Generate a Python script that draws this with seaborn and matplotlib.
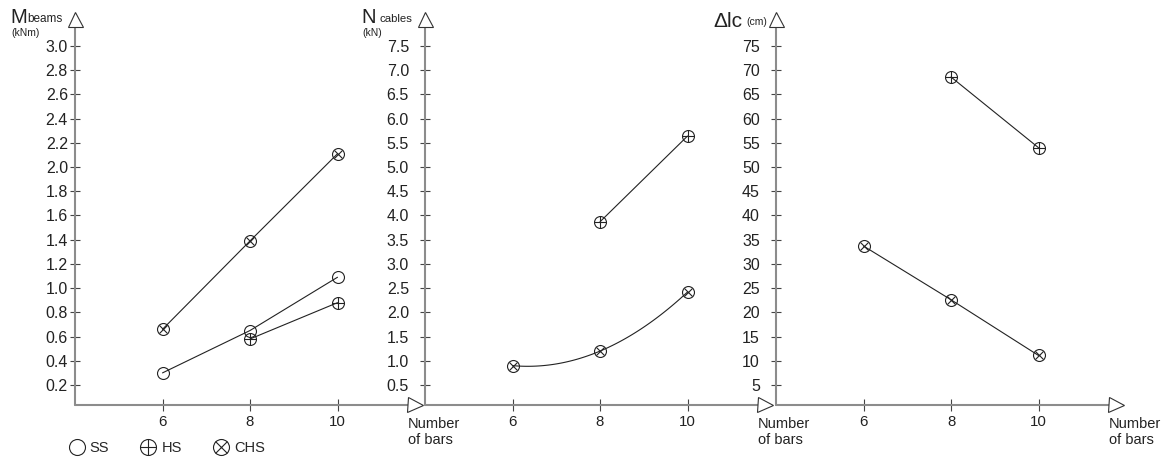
import numpy as np
import matplotlib.pyplot as plt
import seaborn as sns
from matplotlib.lines import Line2D

# number of bars on the x axis
bars = [6, 8, 10]

# M beams (kNm)
m_ss = [0.30, 0.65, 1.09]
m_hs = [np.nan, 0.58, 0.88]
m_chs = [0.66, 1.39, 2.11]

# N cables (kN)
n_hs = [np.nan, 3.87, 5.64]
n_chs = [0.90, 1.20, 2.42]

# delta lc (cm)
dl_hs = [np.nan, 68.6, 54.0]
dl_chs = [33.7, 22.6, 11.1]

m_ticks = [0.2, 0.4, 0.6, 0.8, 1.0, 1.2, 1.4, 1.6, 1.8, 2.0, 2.2, 2.4, 2.6, 2.8, 3.0]
n_ticks = [0.5, 1.0, 1.5, 2.0, 2.5, 3.0, 3.5, 4.0, 4.5, 5.0, 5.5, 6.0, 6.5, 7.0, 7.5]
dl_ticks = [5, 10, 15, 20, 25, 30, 35, 40, 45, 50, 55, 60, 65, 70, 75]

legend_labels = ['SS', 'HS', 'CHS']

sns.set_theme(style='white')
plt.rcParams['font.family'] = ['Liberation Sans', 'DejaVu Sans']

W, H = 1169, 461
fig = plt.figure(figsize=(W / 100, H / 100), dpi=100)

AXIS_COL = '#8c8c8c'
TICK_COL = '#444444'


def px(x, y):
    # pixel position (from top-left) to figure fraction
    return x / W, 1 - y / H


def draw_markers(ax, x, y, kind, ms, **kw):
    base = dict(ls='none', mfc='none', mec='#222222', mew=0.8, zorder=3, clip_on=False)
    base.update(kw)
    ax.plot(x, y, marker='o', ms=ms, **base)
    if kind == 'HS':
        ax.plot(x, y, marker='+', ms=ms, **base)
    elif kind == 'CHS':
        ax.plot(x, y, marker='x', ms=ms * 0.72, **base)


def draw_series(ax, vals, kind, smooth=False):
    x = np.array(bars, float)
    y = np.array(vals, float)
    ok = ~np.isnan(y)
    x, y = x[ok], y[ok]
    if smooth:
        xs = np.linspace(x.min(), x.max(), 80)
        ys = np.polyval(np.polyfit(x, y, 2), xs)
        sns.lineplot(x=xs, y=ys, ax=ax, color='#222222', lw=0.8, sort=False)
    else:
        sns.lineplot(x=x, y=y, ax=ax, color='#222222', lw=0.8, sort=False)
    draw_markers(ax, x, y, kind, 8.6)


def setup_axis(ax, ticks, fmt, label_pad):
    step = ticks[1] - ticks[0]
    ax.set_xlim(4, 12)
    ax.set_ylim(ticks[0] - 0.826 * step, ticks[-1] + 1.404 * step)
    for s in ax.spines.values():
        s.set_visible(False)
    ax.set_facecolor('none')
    ax.set_yticks(ticks)
    ax.set_yticklabels([fmt.format(t) for t in ticks])
    ax.set_xticks(bars)
    ax.set_xticklabels([str(b) for b in bars])
    ax.tick_params(axis='y', direction='inout', length=7.2, width=0.8, color=TICK_COL,
                   pad=label_pad, labelsize=11.5, labelcolor='#222222', left=True)
    ax.tick_params(axis='x', direction='inout', length=9, width=0.8, color=TICK_COL,
                   pad=3, labelsize=10.8, labelcolor='#222222', bottom=True)
    ax.set_xlabel('')
    ax.set_ylabel('')
    # axis lines with open arrow heads
    tr = ax.transAxes
    ax.plot([0, 0], [0, 0.9618], color=AXIS_COL, lw=1.5, transform=tr, clip_on=False, zorder=1)
    ax.plot([0, 0.9505], [0, 0], color=AXIS_COL, lw=1.5, transform=tr, clip_on=False, zorder=1)
    ax.plot([0], [0.981], marker='^', ms=10.8, mfc='white', mec='#333333', mew=0.8,
            transform=tr, clip_on=False, zorder=4)
    ax.plot([0.972], [0], marker='>', ms=10.8, mfc='white', mec='#333333', mew=0.8,
            transform=tr, clip_on=False, zorder=4)
    ax.text(0.9505, -12 / 393, 'Number\nof bars', transform=tr, ha='left', va='top',
            fontsize=10.5, color='#222222', linespacing=1.15)


bottom, height = 1 - 405 / H, 393 / H
ax_m = fig.add_axes([75 / W, bottom, 350 / W, height])
ax_n = fig.add_axes([425 / W, bottom, 350 / W, height])
ax_d = fig.add_axes([776 / W, bottom, 350 / W, height])

setup_axis(ax_m, m_ticks, '{:.1f}', 1.5)
setup_axis(ax_n, n_ticks, '{:.1f}', 8)
setup_axis(ax_d, dl_ticks, '{:d}', 8)

draw_series(ax_m, m_ss, 'SS')
draw_series(ax_m, m_hs, 'HS')
draw_series(ax_m, m_chs, 'CHS')

draw_series(ax_n, n_hs, 'HS')
draw_series(ax_n, n_chs, 'CHS', smooth=True)

draw_series(ax_d, dl_hs, 'HS')
draw_series(ax_d, dl_chs, 'CHS')

# axis titles
txt = dict(color='#222222')
fig.text(*px(10, 23), 'M', fontsize=14.5, va='baseline', ha='left', **txt)
fig.text(*px(27, 22), 'beams', fontsize=8.5, va='baseline', ha='left', **txt)
fig.text(*px(11, 28), '(kNm)', fontsize=7.5, va='top', ha='left', **txt)

fig.text(*px(361, 23), 'N', fontsize=14.5, va='baseline', ha='left', **txt)
fig.text(*px(379, 22), 'cables', fontsize=8.2, va='baseline', ha='left', **txt)
fig.text(*px(362, 28), '(kN)', fontsize=7.5, va='top', ha='left', **txt)

fig.text(*px(713, 27), 'Δlc', fontsize=15, va='baseline', ha='left', **txt)
fig.text(*px(746, 25), '(cm)', fontsize=7.5, va='baseline', ha='left', **txt)

# legend
mk = dict(ls='none', mfc='none', mec='#222222', mew=0.8)
h_ss = Line2D([], [], marker='o', ms=11.5, **mk)
h_hs = (Line2D([], [], marker='o', ms=11.5, **mk), Line2D([], [], marker='+', ms=11.5, **mk))
h_chs = (Line2D([], [], marker='o', ms=11.5, **mk), Line2D([], [], marker='x', ms=11.5 * 0.72, **mk))
fig.legend([h_ss, h_hs, h_chs], legend_labels, loc='center left',
           bbox_to_anchor=px(69.4, 448), ncol=3, frameon=False, fontsize=10.5,
           handlelength=1.0, handletextpad=0.4, columnspacing=2.17,
           borderpad=0, borderaxespad=0, numpoints=1)

fig.savefig('out.png', dpi=100, facecolor='white')
